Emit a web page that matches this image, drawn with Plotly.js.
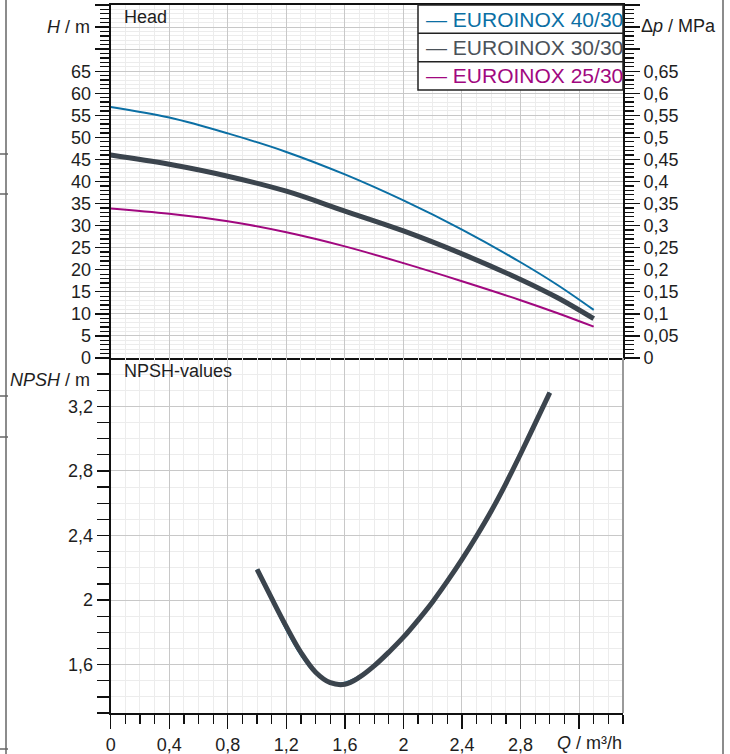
<!DOCTYPE html>
<html>
<head>
<meta charset="utf-8">
<script src="https://cdn.plot.ly/plotly-3.0.1.min.js"></script>
<style>
html,body{margin:0;padding:0;background:#ffffff;}
#chart{width:730px;height:754px;}
</style>
</head>
<body>
<div id="chart"></div>
<script>
// ---------------- data ----------------
const SERIES_NAMES = ['EUROINOX 40/30', 'EUROINOX 30/30', 'EUROINOX 25/30'];

// Head curves, Q in m³/h, H in m
const Q_HEAD  = [0, 0.4, 0.8, 1.2, 1.6, 2.0, 2.4, 2.8, 3.05, 3.3];
const H_4030  = [56.9, 54.5, 50.9, 46.7, 41.6, 35.7, 29.1, 21.7, 16.6, 10.9];
const H_3030  = [46.0, 43.9, 41.2, 37.8, 33.3, 28.8, 23.6, 17.8, 13.7, 8.9];
const H_2530  = [33.9, 32.7, 31.0, 28.5, 25.3, 21.5, 17.4, 13.1, 10.2, 7.1];

// NPSH curves, Q in m³/h, NPSH in m
const Q_NPSH    = [1.0, 1.1, 1.2, 1.3, 1.4, 1.5, 1.6, 1.7, 1.8, 1.9, 2.0, 2.1, 2.2, 2.3, 2.4, 2.5, 2.6, 2.7, 2.8, 2.9, 3.0];
const NPSH_4030 = [2.19, 2.005, 1.815, 1.658, 1.545, 1.49, 1.488, 1.528, 1.594, 1.677, 1.77, 1.876, 1.99, 2.117, 2.252, 2.397, 2.552, 2.722, 2.905, 3.095, 3.285];
const NPSH_3030 = [2.19, 2.01, 1.835, 1.675, 1.553, 1.488, 1.478, 1.522, 1.592, 1.677, 1.77, 1.876, 1.99, 2.117, 2.252, 2.397, 2.552, 2.722, 2.905, 3.095, 3.285];

// tick values and labels
const H_TICKS       = [0, 5, 10, 15, 20, 25, 30, 35, 40, 45, 50, 55, 60, 65, 70, 75, 80];
const H_TICK_LABELS = ['0','5','10','15','20','25','30','35','40','45','50','55','60','65','','',''];
const DP_TICKS       = [0, 0.05, 0.1, 0.15, 0.2, 0.25, 0.3, 0.35, 0.4, 0.45, 0.5, 0.55, 0.6, 0.65, 0.7, 0.75, 0.8];
const DP_TICK_LABELS = ['0','0,05','0,1','0,15','0,2','0,25','0,3','0,35','0,4','0,45','0,5','0,55','0,6','0,65','','',''];
const Q_TICKS       = [0, 0.4, 0.8, 1.2, 1.6, 2.0, 2.4, 2.8, 3.2];
const Q_TICK_LABELS = ['0','0,4','0,8','1,2','1,6','2','2,4','2,8',''];
const NPSH_TICKS       = [1.6, 2.0, 2.4, 2.8, 3.2];
const NPSH_TICK_LABELS = ['1,6','2','2,4','2,8','3,2'];

// ---------------- styling ----------------
const W = 730, HGT = 754;
const px = v => v / W;
const py = v => 1 - v / HGT;

const FONT = 'Liberation Sans, Arial, sans-serif';
const TXT = '#1e1e1e';
const AXIS = '#111111';
const GRID_MAJOR = '#c8c8c8';
const GRID_MINOR = '#ececec';
const COL_40 = '#0b6fa4';
const COL_30 = '#3b444d';
const COL_25 = '#a1087f';
const COL_30_TXT = '#4b5259';
const LEGEND_TEXT_COLORS = [COL_40, COL_30_TXT, COL_25];

const X_DOM = [px(110.7), px(623)];
const Y_TOP = [py(358), py(5)];
const Y_BOT = [py(713), py(358)];

const traces = [
  {x: Q_HEAD, y: H_4030, xaxis: 'x', yaxis: 'y', mode: 'lines', name: SERIES_NAMES[0],
   line: {color: COL_40, width: 2, shape: 'spline', smoothing: 1}},
  {x: Q_HEAD, y: H_3030, xaxis: 'x', yaxis: 'y', mode: 'lines', name: SERIES_NAMES[1],
   line: {color: COL_30, width: 5, shape: 'spline', smoothing: 1}},
  {x: Q_HEAD, y: H_2530, xaxis: 'x', yaxis: 'y', mode: 'lines', name: SERIES_NAMES[2],
   line: {color: COL_25, width: 2, shape: 'spline', smoothing: 1}},
  {x: Q_NPSH, y: NPSH_4030, xaxis: 'x2', yaxis: 'y2', mode: 'lines', name: SERIES_NAMES[0],
   line: {color: COL_40, width: 2, shape: 'spline', smoothing: 1}},
  {x: Q_NPSH, y: NPSH_3030, xaxis: 'x2', yaxis: 'y2', mode: 'lines', name: SERIES_NAMES[1],
   line: {color: COL_30, width: 5, shape: 'spline', smoothing: 1}},
  // registers the Δp axis (secondary scale of the head panel); carries no marks
  {type: 'scatter', x: [], y: [], xaxis: 'x', yaxis: 'y3', visible: false, name: 'Δp'}
];

const tickFont = {family: FONT, size: 18, color: TXT};

// legend drawn as a boxed text list, like the original
const LEG_L = 418, LEG_R = 623, LEG_T = 5, LEG_B = 90;
const rowH = (LEG_B - LEG_T) / SERIES_NAMES.length;

const legendShapes = [
  {type: 'rect', xref: 'paper', yref: 'paper', x0: px(LEG_L), x1: px(LEG_R), y0: py(LEG_B), y1: py(LEG_T),
   fillcolor: '#ffffff', line: {color: '#222222', width: 1.5}, layer: 'above'}
];
for (let i = 1; i < SERIES_NAMES.length; i++) {
  const yy = LEG_T + rowH * i;
  legendShapes.push({type: 'line', xref: 'paper', yref: 'paper', x0: px(LEG_L), x1: px(LEG_R), y0: py(yy), y1: py(yy),
    line: {color: '#222222', width: 1.5}, layer: 'above'});
}
const legendAnns = SERIES_NAMES.map((n, i) => ({
  text: '— ' + n, xref: 'paper', yref: 'paper', x: px(LEG_L + 6), y: py(LEG_T + rowH * (i + 0.5)),
  xanchor: 'left', yanchor: 'middle', showarrow: false,
  font: {family: FONT, size: 21, color: LEGEND_TEXT_COLORS[i]}
}));

const layout = {
  width: W, height: HGT,
  margin: {l: 0, r: 0, t: 0, b: 0, pad: 0},
  paper_bgcolor: '#ffffff', plot_bgcolor: '#ffffff',
  font: {family: FONT, size: 18, color: TXT},
  separators: ',.',
  showlegend: false,
  xaxis: {
    domain: X_DOM, anchor: 'y', range: [0, 3.5],
    tickmode: 'linear', tick0: 0, dtick: 0.4, ticks: '', showticklabels: false,
    showgrid: true, gridcolor: GRID_MAJOR, gridwidth: 1,
    minor: {tickmode: 'linear', tick0: 0, dtick: 0.1, ticks: '', showgrid: true, gridcolor: GRID_MINOR, gridwidth: 1},
    showline: true, linecolor: AXIS, linewidth: 2, mirror: true, zeroline: false
  },
  yaxis: {
    domain: Y_TOP, anchor: 'x', range: [0, 80],
    tickmode: 'array', tickvals: H_TICKS, ticktext: H_TICK_LABELS,
    ticks: 'outside', ticklen: 14, tickwidth: 1.3, tickcolor: AXIS, tickfont: tickFont,
    showgrid: true, gridcolor: GRID_MAJOR, gridwidth: 1,
    minor: {tickmode: 'linear', tick0: 0, dtick: 1, ticks: 'outside', ticklen: 9, tickwidth: 1.3, tickcolor: AXIS,
            showgrid: true, gridcolor: GRID_MINOR, gridwidth: 1},
    showline: true, linecolor: AXIS, linewidth: 2, zeroline: false
  },
  yaxis3: {
    overlaying: 'y', side: 'right', anchor: 'x', range: [0, 0.8],
    tickmode: 'array', tickvals: DP_TICKS, ticktext: DP_TICK_LABELS,
    ticks: 'outside', ticklen: 15, tickwidth: 1.3, tickcolor: AXIS, tickfont: tickFont,
    showgrid: false,
    minor: {tickmode: 'linear', tick0: 0, dtick: 0.01, ticks: 'outside', ticklen: 9, tickwidth: 1.3, tickcolor: AXIS, showgrid: false},
    showline: true, linecolor: AXIS, linewidth: 2, zeroline: false
  },
  xaxis2: {
    domain: X_DOM, anchor: 'y2', range: [0, 3.5],
    tickmode: 'array', tickvals: Q_TICKS, ticktext: Q_TICK_LABELS,
    ticks: 'outside', ticklen: 14, tickwidth: 1.3, tickcolor: AXIS, tickfont: tickFont,
    showgrid: true, gridcolor: GRID_MAJOR, gridwidth: 1,
    minor: {tickmode: 'linear', tick0: 0, dtick: 0.1, ticks: 'outside', ticklen: 9, tickwidth: 1.3, tickcolor: AXIS,
            showgrid: true, gridcolor: GRID_MINOR, gridwidth: 1},
    showline: true, linecolor: AXIS, linewidth: 2, zeroline: false
  },
  yaxis2: {
    domain: Y_BOT, anchor: 'x2', range: [1.3, 3.5],
    tickmode: 'array', tickvals: NPSH_TICKS, ticktext: NPSH_TICK_LABELS,
    ticks: 'outside', ticklen: 12, tickwidth: 1.3, tickcolor: AXIS, tickfont: tickFont,
    showgrid: true, gridcolor: GRID_MAJOR, gridwidth: 1,
    minor: {tickmode: 'linear', tick0: 0, dtick: 0.1, ticks: 'outside', ticklen: 12, tickwidth: 1.3, tickcolor: AXIS,
            showgrid: true, gridcolor: GRID_MINOR, gridwidth: 1},
    showline: true, linecolor: AXIS, linewidth: 2, zeroline: false
  },
  annotations: [
    {text: 'Head', xref: 'paper', yref: 'paper', x: px(122), y: py(17), xanchor: 'left', yanchor: 'middle', showarrow: false, font: {size: 18, color: TXT}},
    {text: 'NPSH-values', xref: 'paper', yref: 'paper', x: px(122), y: py(371), xanchor: 'left', yanchor: 'middle', showarrow: false, font: {size: 18, color: TXT}},
    {text: '<i>H</i> / m', xref: 'paper', yref: 'paper', x: px(92), y: py(27), xanchor: 'right', yanchor: 'middle', showarrow: false, font: {size: 18, color: TXT}},
    {text: 'Δ<i>p</i> / MPa', xref: 'paper', yref: 'paper', x: px(639), y: py(26), xanchor: 'left', yanchor: 'middle', showarrow: false, font: {size: 18, color: TXT}},
    {text: '<i>NPSH</i> / m', xref: 'paper', yref: 'paper', x: px(92), y: py(380), xanchor: 'right', yanchor: 'middle', showarrow: false, font: {size: 18, color: TXT}},
    {text: '<i>Q</i> / m³/h', xref: 'paper', yref: 'paper', x: px(624), y: py(743), xanchor: 'right', yanchor: 'middle', showarrow: false, font: {size: 18, color: TXT}}
  ].concat(legendAnns),
  shapes: [
    // right border of NPSH panel
    {type: 'line', xref: 'paper', yref: 'paper', x0: px(623), x1: px(623), y0: py(713), y1: py(358), line: {color: '#9a9a9a', width: 2}},
    // page frame lines
    {type: 'line', xref: 'paper', yref: 'paper', x0: px(6), x1: px(6), y0: 0, y1: 1, line: {color: '#666666', width: 1.5}},
    {type: 'line', xref: 'paper', yref: 'paper', x0: px(723), x1: px(723), y0: 0, y1: 1, line: {color: '#666666', width: 1.5}},
    {type: 'line', xref: 'paper', yref: 'paper', x0: 0, x1: px(8), y0: py(154), y1: py(154), line: {color: '#666666', width: 1.5}},
    {type: 'line', xref: 'paper', yref: 'paper', x0: 0, x1: px(8), y0: py(194), y1: py(194), line: {color: '#666666', width: 1.5}},
    {type: 'line', xref: 'paper', yref: 'paper', x0: 0, x1: px(8), y0: py(396), y1: py(396), line: {color: '#666666', width: 1.5}},
    {type: 'line', xref: 'paper', yref: 'paper', x0: 0, x1: px(8), y0: py(437), y1: py(437), line: {color: '#666666', width: 1.5}},
    {type: 'line', xref: 'paper', yref: 'paper', x0: 0, x1: px(8), y0: py(749), y1: py(749), line: {color: '#666666', width: 1.5}}
  ].concat(legendShapes)
};

Plotly.newPlot('chart', traces, layout, {displayModeBar: false, staticPlot: true});
</script>
</body>
</html>
